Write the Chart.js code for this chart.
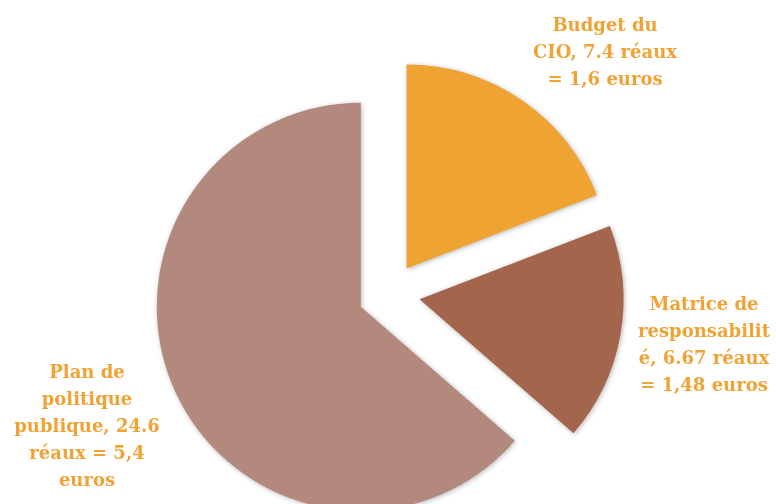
<!DOCTYPE html>
<html>
<head>
<meta charset="utf-8">
<script src="https://cdn.jsdelivr.net/npm/chart.js@4/dist/chart.umd.min.js"></script>
<style>
html,body{margin:0;padding:0;background:#fff;}
#wrap{width:776px;height:504px;position:relative;}
</style>
</head>
<body>
<div id="wrap"><canvas id="c" width="776" height="504"></canvas></div>
<script>
const categories = ["Budget du CIO", "Matrice de responsabilité", "Plan de politique publique"];
const values = [7.4, 6.67, 24.6];
const colors = ["#EEA332", "#A4654D", "#B4897D"];
const labelLines = [
  ["Budget du", "CIO, 7.4 réaux", "= 1,6 euros"],
  ["Matrice de", "responsabilit", "é, 6.67 réaux", "= 1,48 euros"],
  ["Plan de", "politique", "publique, 24.6", "réaux = 5,4", "euros"]
];

const explode = 31;
const labelPos = [{x:605, y:26}, {x:704, y:305}, {x:87, y:373}];

const explodePlugin = {
  id: 'explode',
  beforeDatasetDraw(chart, args) {
    const ctx = chart.ctx;
    const meta = args.meta;
    meta.data.forEach(arc => {
      const half = (arc.startAngle + arc.endAngle) / 2;
      ctx.save();
      ctx.translate(Math.cos(half) * explode, Math.sin(half) * explode);
      ctx.shadowColor = 'rgba(0,0,0,0.28)';
      ctx.shadowBlur = 5;
      ctx.shadowOffsetX = 1;
      ctx.shadowOffsetY = 1;
      arc.draw(ctx);
      ctx.restore();
    });
    return false;
  }
};

const labelPlugin = {
  id: 'sliceLabels',
  afterDraw(chart) {
    const ctx = chart.ctx;
    ctx.save();
    ctx.fillStyle = '#F0A234';
    ctx.font = 'bold 18px "DejaVu Serif"';
    ctx.textAlign = 'center';
    ctx.textBaseline = 'middle';
    labelLines.forEach((lines, i) => {
      const p = labelPos[i];
      lines.forEach((t, j) => ctx.fillText(t, p.x, p.y + j * 27));
    });
    ctx.restore();
  }
};

new Chart(document.getElementById('c'), {
  type: 'pie',
  data: {
    labels: categories,
    datasets: [{
      data: values,
      backgroundColor: colors,
      borderWidth: 0,
      clip: false
    }]
  },
  options: {
    responsive: false,
    animation: false,
    radius: 204,
    layout: {padding: {left: 2, right: 0, top: 84, bottom: 0}},
    plugins: {legend: {display: false}, tooltip: {enabled: false}}
  },
  plugins: [explodePlugin, labelPlugin]
});
</script>
</body>
</html>
